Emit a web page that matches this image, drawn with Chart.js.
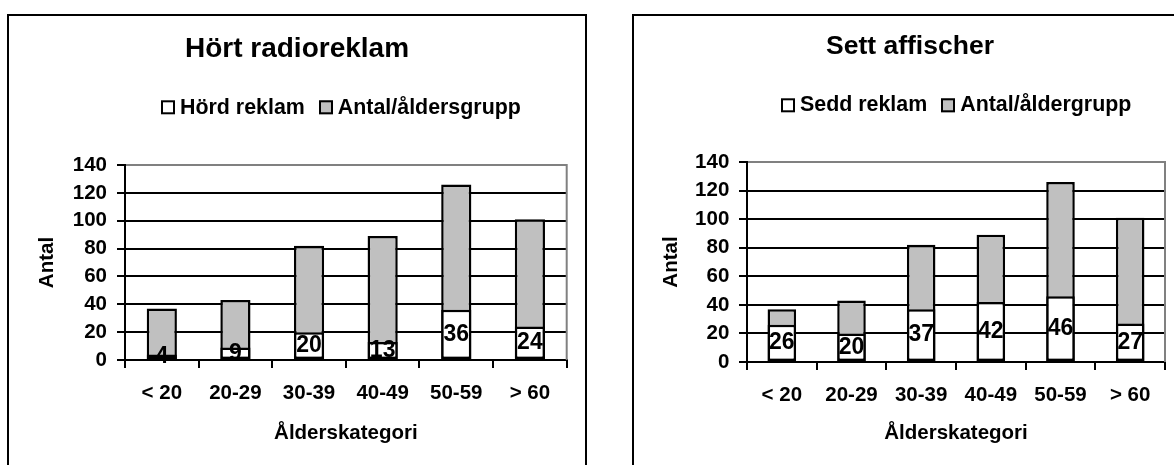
<!DOCTYPE html>
<html>
<head>
<meta charset="utf-8">
<script src="https://cdn.jsdelivr.net/npm/chart.js@4.4.1/dist/chart.umd.min.js"></script>
<style>
  html, body { margin: 0; padding: 0; background: #fff; width: 1174px; height: 465px; overflow: hidden; }
  body { position: relative; font-family: "Liberation Sans", Arial, sans-serif; }
  .frame { position: absolute; top: 14px; height: 470px; border: 2px solid #000; background: #fff; }
  .frame canvas { position: absolute; left: 0; top: 0; }
  .legend { position: absolute; display: flex; align-items: center; transform: translateY(-50%);
            font-weight: bold; font-size: 21.4px; line-height: 1; white-space: nowrap; color: #000; }
  .legend .item { display: flex; align-items: center; margin-right: 14px; }
  .legend .swatch { width: 14px; height: 14px; box-sizing: border-box; border: 2px solid #000; margin-right: 5px; }
</style>
</head>
<body>
<div class="frame" style="left:7px;width:576px;"><canvas id="radioChart" width="576" height="449"></canvas></div>
<div class="frame" style="left:632px;width:552px;"><canvas id="posterChart" width="552" height="449"></canvas></div>
<div class="legend" id="radioLegend" style="left:161px;top:107.7px;"></div>
<div class="legend" id="posterLegend" style="left:781px;top:105px;"></div>

<script>
// Age groups on the x axis
const categories = ['< 20', '20-29', '30-39', '40-49', '50-59', '> 60'];
// Value axis ticks
const yTickValues = [0, 20, 40, 60, 80, 100, 120, 140];

// Radio advertising: respondents who heard it, and group sizes
const radioHeard = [4, 9, 20, 13, 36, 24];
const radioGroupTotals = [37, 43, 82, 89, 126, 101];

// Posters: respondents who saw them, and group sizes
const posterSeen = [26, 20, 37, 42, 46, 27];
const posterGroupTotals = [37, 43, 82, 89, 126, 101];

const FONT = '"Liberation Sans", Arial, sans-serif';
const WHITE = '#ffffff';
const SILVER = '#c0c0c0';

// Gray right-hand edge of the plot area
const plotFrame = {
  id: 'plotFrame',
  beforeDatasetsDraw(chart) {
    const { ctx, chartArea: a } = chart;
    ctx.save();
    ctx.strokeStyle = '#808080';
    ctx.lineWidth = 2;
    ctx.beginPath();
    ctx.moveTo(a.right, a.top - 1);
    ctx.lineTo(a.right, a.bottom);
    ctx.stroke();
    ctx.restore();
  }
};

// Value labels centred inside the white bars
const barValueLabels = {
  id: 'barValueLabels',
  afterDatasetsDraw(chart) {
    const { ctx } = chart;
    const meta = chart.getDatasetMeta(0);
    const values = chart.data.datasets[0].data;
    ctx.save();
    ctx.font = 'bold 23px ' + FONT;
    ctx.fillStyle = '#000';
    ctx.textAlign = 'center';
    ctx.textBaseline = 'middle';
    meta.data.forEach((bar, i) => {
      const { x, y, base } = bar.getProps(['x', 'y', 'base'], true);
      ctx.fillText(String(values[i]), x, (y + base) / 2);
    });
    ctx.restore();
  }
};

function buildLegend(el, chart) {
  chart.data.datasets.forEach(ds => {
    const item = document.createElement('div');
    item.className = 'item';
    const sw = document.createElement('span');
    sw.className = 'swatch';
    sw.style.background = ds.backgroundColor;
    const tx = document.createElement('span');
    tx.textContent = ds.label;
    item.appendChild(sw);
    item.appendChild(tx);
    el.appendChild(item);
  });
}

function buildChart(canvasId, cfg) {
  const barStyle = { borderColor: '#000', borderWidth: 2.5, borderSkipped: false,
                     grouped: false, barPercentage: 0.41, categoryPercentage: 1 };
  const tickFont = { family: FONT, size: 20.5, weight: 'bold', lineHeight: 1.2 };
  const axisTitleFont = { family: FONT, size: 20.5, weight: 'bold', lineHeight: 1.2 };
  return new Chart(document.getElementById(canvasId), {
    type: 'bar',
    data: {
      labels: categories,
      datasets: [
        Object.assign({ label: cfg.partLabel, data: cfg.part, backgroundColor: WHITE }, barStyle),
        Object.assign({ label: cfg.totalLabel, data: cfg.totals, backgroundColor: SILVER }, barStyle)
      ]
    },
    options: {
      responsive: false,
      animation: false,
      layout: { padding: { left: cfg.sidePad, right: cfg.sidePad, top: 0, bottom: 0 } },
      plugins: {
        legend: { display: false },
        tooltip: { enabled: false },
        title: {
          display: true, text: cfg.title, color: '#000',
          font: { family: FONT, size: cfg.titleSize, weight: 'bold', lineHeight: 1.2 },
          padding: { top: cfg.titleTop, bottom: cfg.titleBottom }
        }
      },
      scales: {
        x: {
          grid: { display: true, drawOnChartArea: false, drawTicks: true, tickLength: 8,
                  color: '#000', lineWidth: 2, offset: true },
          border: { display: true, color: '#000', width: 2 },
          ticks: { color: '#000', font: tickFont, padding: cfg.xTickPad, maxRotation: 0, autoSkip: false },
          title: { display: true, text: 'Ålderskategori', color: '#000', font: axisTitleFont,
                   padding: { top: 0, bottom: cfg.xTitleBottom } },
          afterFit: s => { s.height = cfg.xHeight; }
        },
        y: {
          min: 0, max: 140,
          afterBuildTicks: s => { s.ticks = yTickValues.map(v => ({ value: v })); },
          grid: { color: c => (c.tick && c.tick.value === 140 ? '#808080' : '#000'),
                  tickColor: '#000', lineWidth: 2, tickLength: 8 },
          border: { display: true, color: '#000', width: 2 },
          ticks: { color: '#000', font: tickFont, padding: cfg.yTickPad },
          title: { display: true, text: 'Antal', color: '#000', font: axisTitleFont,
                   padding: { top: cfg.yTitleTop, bottom: 0 } },
          afterFit: s => { s.width = cfg.yWidth; }
        }
      }
    },
    plugins: [plotFrame, barValueLabels]
  });
}

const radioChart = buildChart('radioChart', {
  title: 'Hört radioreklam', titleSize: 28, titleTop: 16.5, titleBottom: 98.9,
  partLabel: 'Hörd reklam', totalLabel: 'Antal/åldersgrupp',
  part: radioHeard, totals: radioGroupTotals,
  sidePad: 18.3, yWidth: 97.7, xHeight: 105,
  yTitleTop: 8.2, yTickPad: 10, xTickPad: 13, xTitleBottom: 19.2
});

const posterChart = buildChart('posterChart', {
  title: 'Sett affischer', titleSize: 26.5, titleTop: 14.8, titleBottom: 99.4,
  partLabel: 'Sedd reklam', totalLabel: 'Antal/åldergrupp',
  part: posterSeen, totals: posterGroupTotals,
  sidePad: 21, yWidth: 92, xHeight: 103,
  yTitleTop: 4.2, yTickPad: 9.7, xTickPad: 12.7, xTitleBottom: 19.2
});

buildLegend(document.getElementById('radioLegend'), radioChart);
buildLegend(document.getElementById('posterLegend'), posterChart);
</script>
</body>
</html>
